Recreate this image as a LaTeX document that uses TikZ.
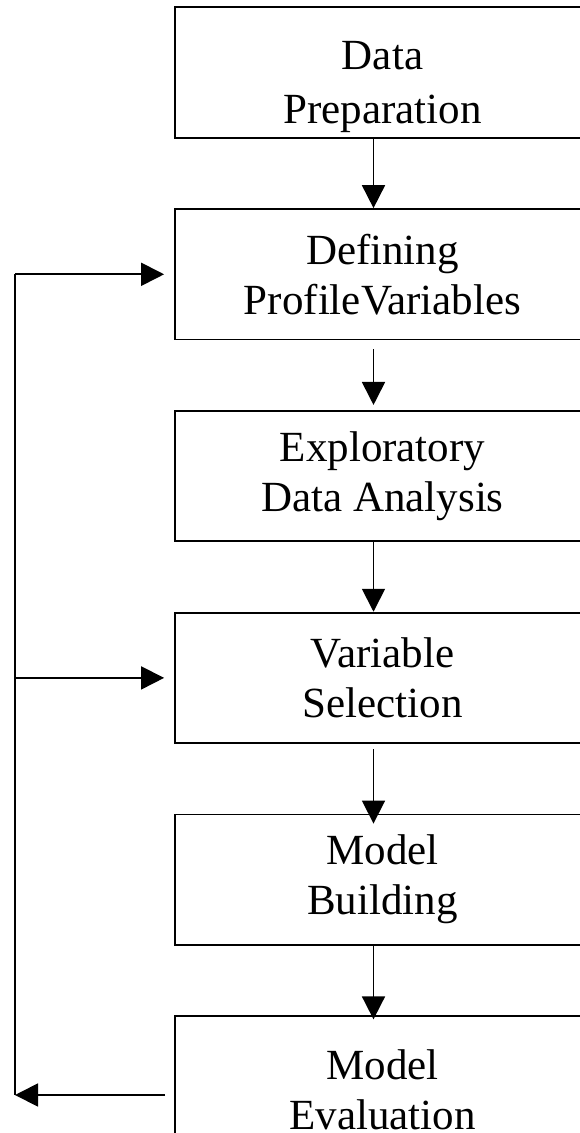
\documentclass[tikz,border=0pt]{standalone}
\usepackage{fontspec}
\setmainfont{Liberation Serif}
\usepackage{tikz}
\usetikzlibrary{arrows.meta}
\usetikzlibrary{positioning}

\begin{document}
\begin{tikzpicture}[x=1pt, y=-1pt, line width=1.8pt,
    >={Triangle[length=23pt,width=23pt]},
    stagebox/.style={draw, minimum width=415pt, minimum height=130.5pt, align=center,
        inner sep=0pt, font=\fontsize{43}{50}\selectfont},
    node distance=69.5pt]
    \useasboundingbox (0,0) rectangle (580,1133);
    \node[stagebox] (dataprep) at (382.5,72.5) {\rule{0pt}{58pt}Data\\[4pt]Preparation};
    \node[stagebox, below=of dataprep] (profvars) {Defining\\ProfileVariables};
    \node[stagebox, below=of profvars] (explore) {Exploratory\\Data Analysis};
    \node[stagebox, below=of explore] (varsel) {Variable\\Selection};
    \node[stagebox, below=of varsel] (modelbuild) {Model\\Building};
    \node[stagebox, minimum height=148pt, below=of modelbuild] (modeleval) {Model\\Evaluation};
    \draw[->] ([xshift=-9pt]dataprep.south) -- ([xshift=-9pt]profvars.north);
    \draw[->, shorten <=9pt, shorten >=5pt] ([xshift=-9pt]profvars.south) -- ([xshift=-9pt]explore.north);
    \draw[->] ([xshift=-9pt]explore.south) -- ([xshift=-9pt]varsel.north);
    \draw[->, shorten <=5pt, shorten >=-10pt] ([xshift=-9pt]varsel.south) -- ([xshift=-9pt]modelbuild.north);
    \draw[->, shorten >=-4pt] ([xshift=-9pt]modelbuild.south) -- ([xshift=-9pt]modeleval.north);
    \coordinate (fbbot) at (15,1095);
    \coordinate (fbtop) at (profvars.west -| fbbot);
    \draw[->] ([xshift=-9pt]modeleval.west |- fbbot) -- (fbbot);
    \draw (fbbot) -- (fbtop);
    \draw[->, shorten >=10pt] (fbtop) -- (profvars.west);
    \draw[->, shorten >=10pt] (varsel.west -| fbbot) -- (varsel.west);
\end{tikzpicture}
\end{document}
